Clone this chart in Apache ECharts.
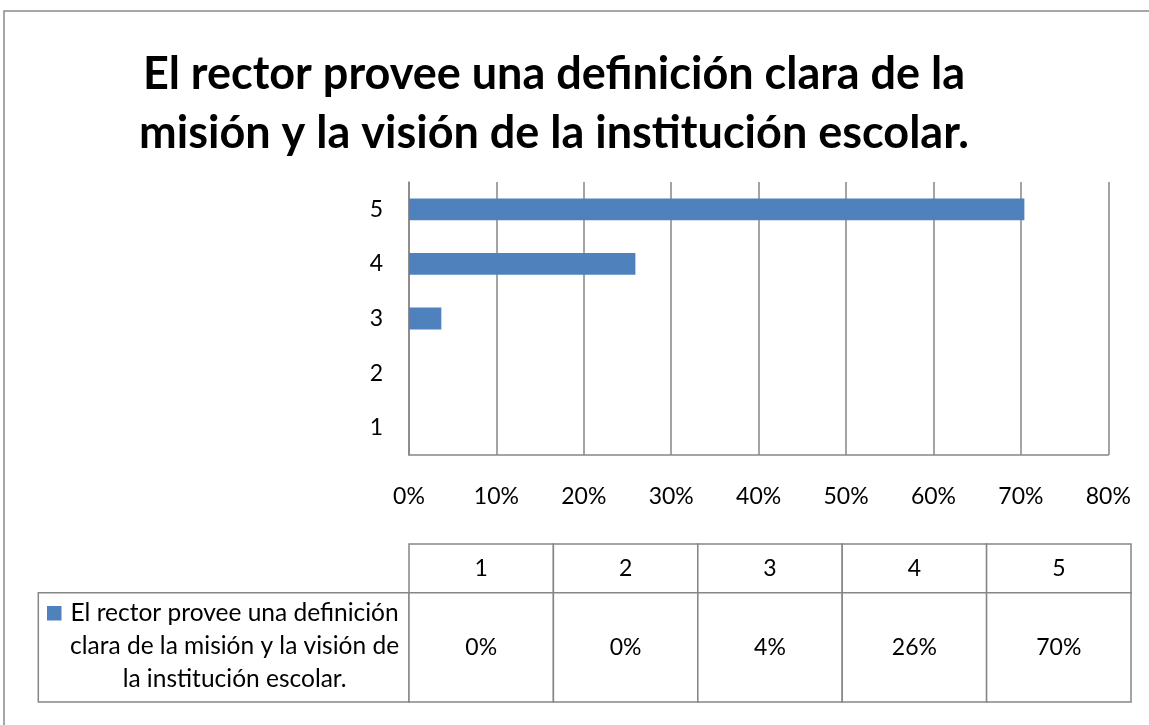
<!DOCTYPE html>
<html>
<head>
<meta charset="utf-8">
<script src="https://cdn.jsdelivr.net/npm/echarts@6/dist/echarts.min.js"></script>
<style>html,body{margin:0;padding:0;background:#fff;}#c{width:1149px;height:725px;}</style>
</head>
<body>
<div id="c"></div>
<script>
const titleText = 'El rector provee una definición clara de la\nmisión y la visión de la institución escolar.';
const categories = ['1', '2', '3', '4', '5'];
const seriesName = 'El rector provee una definición clara de la misión y la visión de la institución escolar.';
const legendLines = 'El rector provee una definición\nclara de la misión y la visión de\nla institución escolar.';
const values = [0, 0, 3.7, 25.9, 70.4];
const tableLabels = ['0%', '0%', '4%', '26%', '70%'];
const xMin = 0, xMax = 80, xStep = 10;

const FONT = 'Lato';
const GRAY = '#868686';
const BAR = '#4F81BD';

const chart = echarts.init(document.getElementById('c'));

function cellSeries(idx, texts) {
  return {
    type: 'custom',
    xAxisIndex: idx, yAxisIndex: idx,
    silent: true,
    data: categories.map((c, i) => [i, texts[i]]),
    renderItem: function (params, api) {
      const p = api.coord([api.value(0), 0.5]);
      const s = api.size([1, 1]);
      return {
        type: 'group',
        children: [
          { type: 'rect', shape: { x: p[0] - s[0] / 2, y: p[1] - s[1] / 2, width: s[0], height: s[1] },
            style: { fill: '#fff', stroke: GRAY, lineWidth: 1.5 } },
          { type: 'text', x: p[0], y: p[1],
            style: { text: texts[params.dataIndex], fontFamily: FONT, fontSize: 23, fill: '#000', align: 'center', verticalAlign: 'middle' } }
        ]
      };
    }
  };
}

const option = {
  backgroundColor: '#fff',
  animation: false,
  title: {
    text: titleText,
    left: 549, top: 40, textAlign: 'center',
    textStyle: { fontFamily: FONT, fontWeight: 'bold', fontSize: 45, lineHeight: 59, color: '#000' }
  },
  grid: [
    { left: 409, right: 40.7, top: 182, bottom: 270 },
    { left: 409, right: 18, top: 544, height: 48.7 },
    { left: 409, right: 18, top: 592.7, height: 109.3 }
  ],
  xAxis: [
    { type: 'value', gridIndex: 0, min: xMin, max: xMax, interval: xStep,
      axisLine: { show: true, lineStyle: { color: GRAY, width: 1.5 } },
      axisTick: { show: false },
      splitLine: { show: true, lineStyle: { color: GRAY, width: 1.5 } },
      axisLabel: { formatter: '{value}%', margin: 30, fontFamily: FONT, fontSize: 23, color: '#000' } },
    { type: 'category', gridIndex: 1, data: categories, show: false },
    { type: 'category', gridIndex: 2, data: categories, show: false }
  ],
  yAxis: [
    { type: 'category', gridIndex: 0, data: categories,
      axisLine: { show: true, lineStyle: { color: GRAY, width: 1.5 } },
      axisTick: { show: false },
      axisLabel: { margin: 26, fontFamily: FONT, fontSize: 23, color: '#000' } },
    { type: 'value', gridIndex: 1, min: 0, max: 1, show: false },
    { type: 'value', gridIndex: 2, min: 0, max: 1, show: false }
  ],
  series: [
    { name: seriesName, type: 'bar', xAxisIndex: 0, yAxisIndex: 0, data: values, barWidth: '40%',
      itemStyle: { color: BAR } },
    cellSeries(1, categories),
    cellSeries(2, tableLabels)
  ],
  graphic: [
    { type: 'rect', shape: { x: 4, y: 11, width: 1300, height: 900 }, style: { fill: 'none', stroke: '#8a8a8a', lineWidth: 1.5 }, z: -1 },
    { type: 'rect', shape: { x: 38.3, y: 592.7, width: 409 - 38.3, height: 109.3 }, style: { fill: '#fff', stroke: GRAY, lineWidth: 1.5 } },
    { type: 'rect', shape: { x: 47, y: 606, width: 14.5, height: 14.5 }, style: { fill: BAR } },
    { type: 'text', x: 234.6, y: 646, style: { text: legendLines, fontFamily: FONT, fontSize: 24.5, lineHeight: 33, fill: '#000', align: 'center', verticalAlign: 'middle' } }
  ]
};
chart.setOption(option);
</script>
</body>
</html>
